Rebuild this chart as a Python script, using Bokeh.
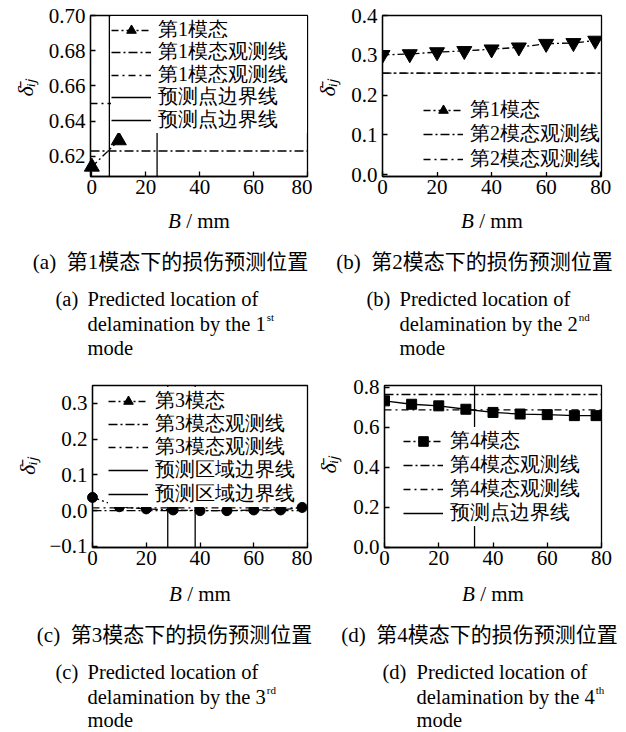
import math
from bokeh.plotting import figure
from bokeh.models import Range1d, FixedTicker, CustomJSTickFormatter, Legend, LegendItem
from bokeh.layouts import column, row
from bokeh.embed import file_html
from bokeh.resources import INLINE
from bokeh.core.properties import value

FONT = "Liberation Serif, Noto Sans CJK SC"
NUM_FONT = "Liberation Serif"

# ---------------- data ----------------
X_TICKS = [0, 20, 40, 60, 80]

A_X = [0, 10]
A_Y = [0.614, 0.629]
A_OBS = [0.623, 0.650]
A_BOUND = [6.5, 24.2]
A_YTICKS = [0.62, 0.64, 0.66, 0.68, 0.70]
A_LABELS = ["第1模态", "第1模态观测线", "第1模态观测线", "预测点边界线", "预测点边界线"]

B_X = [0, 10, 20, 30, 40, 50, 60, 70, 78]
B_Y = [0.301, 0.303, 0.308, 0.311, 0.315, 0.320, 0.329, 0.331, 0.337]
B_OBS = [0.255, 0.255]
B_YTICKS = [0.0, 0.1, 0.2, 0.3, 0.4]
B_LABELS = ["第1模态", "第2模态观测线", "第2模态观测线"]

C_X = [0, 10, 20, 30, 40, 50, 60, 70, 78]
C_Y = [0.037, 0.011, 0.005, 0.002, 0.0, 0.0, 0.002, 0.002, 0.009]
C_OBS = [0.0, 0.008]
C_BOUND = [28.0, 38.2]
C_YTICKS = [-0.1, 0.0, 0.1, 0.2, 0.3]
C_LABELS = ["第3模态", "第3模态观测线", "第3模态观测线", "预测区域边界线", "预测区域边界线"]

D_X = [0, 10, 20, 30, 40, 50, 60, 70, 78]
D_Y = [0.733, 0.716, 0.708, 0.691, 0.675, 0.667, 0.664, 0.659, 0.659]
D_OBS = [0.765, 0.688]
D_BOUND = [33.2]
D_YTICKS = [0.0, 0.2, 0.4, 0.6, 0.8]
D_LABELS = ["第4模态", "第4模态观测线", "第4模态观测线", "预测点边界线"]

X_LABEL_ITALIC = "B"
X_LABEL_REST = "/ mm"
Y_LABEL = "\u03b4\u0304\u1d62\u2c7c"

CAP_ZH = ["(a)\u00a0\u00a0第1模态下的损伤预测位置", "(b)\u00a0\u00a0第2模态下的损伤预测位置",
          "(c)\u00a0\u00a0第3模态下的损伤预测位置", "(d)\u00a0\u00a0第4模态下的损伤预测位置"]
CAP_TAG = ["(a)", "(b)", "(c)", "(d)"]
CAP_L1 = "Predicted location of"
CAP_L2 = ["delamination by the 1", "delamination by the 2", "delamination by the 3", "delamination by the 4"]
CAP_SUP = ["st", "nd", "rd", "th"]
CAP_L3 = "mode"

LW = 1.3
DASH_SERIES = "7 3 2 3"
DASH_OBS1 = "9 3 2 3"
DASH_OBS2 = "7 4 2 4"
ROW_H = 27.5  # rendered height of one legend row


def blank_fig(width, height, x0, top):
    f = figure(width=width, height=height, x_range=Range1d(x0, x0 + width),
               y_range=Range1d(top + height, top), toolbar_location=None, output_backend="svg",
               x_axis_location=None, y_axis_location=None, min_border=0)
    f.xgrid.visible = False
    f.ygrid.visible = False
    f.outline_line_alpha = 0
    return f


def ylab_fig(width, height, x0, top, cx, cy):
    f = blank_fig(width, height, x0, top)
    f.text(x=[cx], y=[cy], text=[Y_LABEL], angle=math.pi / 2, text_font=value(NUM_FONT),
           text_font_size="22px", text_font_style="italic", text_color="black",
           text_align="center", text_baseline="middle")
    return f


def panel(width, height, xr, yr, borders, yticks, ydec):
    l, r, t, b = borders
    p = figure(width=width, height=height, x_range=Range1d(*xr), y_range=Range1d(*yr),
               toolbar_location=None, output_backend="svg",
               min_border_left=l, min_border_right=r, min_border_top=t, min_border_bottom=b)
    p.xgrid.visible = False
    p.ygrid.visible = False
    p.outline_line_color = "black"
    p.outline_line_width = LW
    p.outline_line_alpha = 1
    p.xaxis.ticker = FixedTicker(ticks=X_TICKS)
    p.yaxis.ticker = FixedTicker(ticks=yticks)
    p.xaxis.formatter = CustomJSTickFormatter(code="return tick.toFixed(0);")
    p.yaxis.formatter = CustomJSTickFormatter(
        code="return tick.toFixed(%d).replace('-', '\\u2212');" % ydec)
    for ax in (p.xaxis[0], p.yaxis[0]):
        ax.major_tick_in = 5
        ax.major_tick_out = 0
        ax.minor_tick_in = 0
        ax.minor_tick_out = 0
        ax.major_tick_line_color = "black"
        ax.major_tick_line_width = LW
        ax.axis_line_color = "black"
        ax.axis_line_width = LW
        ax.major_label_text_font = NUM_FONT
        ax.major_label_text_font_size = "21px"
        ax.major_label_text_color = "black"
    p.xaxis.major_label_standoff = 3
    p.yaxis.major_label_standoff = 5
    return p


def hline(p, y, xr, dash):
    return p.segment(x0=[xr[0]], x1=[xr[1]], y0=[y], y1=[y], line_color="black",
                     line_width=LW, line_dash=dash)


def vline(p, x, yr):
    return p.segment(x0=[x], x1=[x], y0=[yr[0]], y1=[yr[1]], line_color="black",
                     line_width=LW)


def add_legend_rows(p, entries, vx, frame_bottom, first_center, pitch, label_width=20):
    """One single-row legend per entry, so that the row pitch is set exactly."""
    for i, (label, rends) in enumerate(entries):
        center = first_center + i * pitch
        vy = round(frame_bottom - (center + ROW_H / 2))
        lg = Legend(items=[LegendItem(label=label, renderers=rends)], location=(vx, vy),
                    padding=0, spacing=0, margin=0,
                    glyph_width=40, glyph_height=24, label_height=24, label_standoff=7,
                    label_width=label_width,
                    label_text_font=NUM_FONT, label_text_font_size="20px",
                    label_text_color="black", border_line_alpha=0,
                    background_fill_color="white", background_fill_alpha=1,
                    inactive_fill_alpha=0)
        p.add_layout(lg)


# ---------------- panel (a) ----------------
xa, ya = (-0.5, 80), (0.6085, 0.70)
la = ylab_fig(32, 205, 8, 0, 25, 92)
pa = panel(272, 205, xa, ya, (50, 5, 15, 29), A_YTICKS, 2)
ra_o1 = hline(pa, A_OBS[0], xa, DASH_OBS1)
ra_o2 = hline(pa, A_OBS[1], xa, DASH_OBS2)
ra_b1 = vline(pa, A_BOUND[0], ya)
ra_b2 = vline(pa, A_BOUND[1], ya)
ra_l = pa.line(A_X, A_Y, line_color="black", line_width=LW, line_dash=DASH_SERIES)
ra_m = pa.scatter(A_X, A_Y, marker="triangle", size=15, fill_color="black", line_color="black",
                  level="overlay")
add_legend_rows(pa, [(A_LABELS[0], [ra_l, ra_m]), (A_LABELS[1], [ra_o1]),
                     (A_LABELS[2], [ra_o2]), (A_LABELS[3], [ra_b1]),
                     (A_LABELS[4], [ra_b2])], 21, 176, 28.8, 22.6, label_width=149)

# ---------------- panel (b) ----------------
xb, yb = (0, 80.3), (-0.005, 0.40)
lb = ylab_fig(30, 205, 312, 0, 327, 92)
pb = panel(276, 205, xb, yb, (40, 17, 15, 29), B_YTICKS, 1)
rb_o1 = hline(pb, B_OBS[0], xb, DASH_OBS1)
rb_o2 = hline(pb, B_OBS[1], xb, DASH_OBS2)
rb_l = pb.line(B_X, B_Y, line_color="black", line_width=LW, line_dash=DASH_SERIES)
pb.scatter(B_X, B_Y, marker="inverted_triangle", size=15, fill_color="black", line_color="black")
rb_leg = pb.scatter(B_X, B_Y, marker="triangle", size=15, fill_color="black",
                    line_color="black", visible=False)
add_legend_rows(pb, [(B_LABELS[0], [rb_l, rb_leg]), (B_LABELS[1], [rb_o1]),
                     (B_LABELS[2], [rb_o2])], 41, 176, 109, 24.5)

# ---------------- panel (c) ----------------
xc, yc = (0, 80), (-0.103, 0.35)
lc = ylab_fig(34, 209, 8, 366, 27, 470)
pc = panel(270, 209, xc, yc, (50, 5, 19, 28), C_YTICKS, 1)
rc_o1 = hline(pc, C_OBS[0], xc, DASH_OBS1)
rc_o2 = hline(pc, C_OBS[1], xc, DASH_OBS2)
rc_b1 = vline(pc, C_BOUND[0], yc)
rc_b2 = vline(pc, C_BOUND[1], yc)
rc_l = pc.line(C_X, C_Y, line_color="black", line_width=LW, line_dash=DASH_SERIES)
pc.scatter(C_X, C_Y, marker="circle", size=10, fill_color="black", line_color="black",
           level="overlay")
rc_leg = pc.scatter(C_X, C_Y, marker="triangle", size=15, fill_color="black",
                    line_color="black", visible=False)
add_legend_rows(pc, [(C_LABELS[0], [rc_l, rc_leg]), (C_LABELS[1], [rc_o1]),
                     (C_LABELS[2], [rc_o2]), (C_LABELS[3], [rc_b1]),
                     (C_LABELS[4], [rc_b2])], 16, 547, 400, 23.2)

# ---------------- panel (d) ----------------
xd, yd = (0, 80), (-0.002, 0.81)
ld = ylab_fig(30, 209, 312, 366, 328, 468)
pd_ = panel(276, 209, xd, yd, (42, 17, 19, 28), D_YTICKS, 1)
rd_o1 = hline(pd_, D_OBS[0], xd, DASH_OBS1)
rd_o2 = hline(pd_, D_OBS[1], xd, DASH_OBS2)
rd_b1 = vline(pd_, D_BOUND[0], yd)
pd_.line(D_X, D_Y, line_color="black", line_width=LW)
rd_m = pd_.scatter(D_X, D_Y, marker="square", size=10, fill_color="black", line_color="black")
rd_leg = pd_.line(D_X, D_Y, line_color="black", line_width=LW, line_dash=DASH_SERIES,
                  visible=False)
add_legend_rows(pd_, [(D_LABELS[0], [rd_leg, rd_m]), (D_LABELS[1], [rd_o1]),
                      (D_LABELS[2], [rd_o2]), (D_LABELS[3], [rd_b1])], 19, 547, 440, 24)


# ---------------- captions ----------------
def txt(f, x, y, s, size, align="left", style="normal"):
    f.text(x=[x], y=[y], text=[s], text_font=value(FONT), text_font_size=size,
           text_align=align, text_baseline="middle", text_color="black",
           text_font_style=style)


EN = 20.5
L2_EM = 8.694  # width of "delamination by the N" in em (Times metrics)


def caption_block(f, idx, axis_center, zh_center, tag_x, text_x, y_axis, y_zh, y_lines):
    bx = axis_center - 30.9
    txt(f, bx, y_axis, X_LABEL_ITALIC, "21px", style="italic")
    txt(f, bx + 18.1, y_axis, X_LABEL_REST, "21px")
    txt(f, zh_center, y_zh, CAP_ZH[idx], "21px", align="center")
    txt(f, tag_x, y_lines[0], CAP_TAG[idx], "%gpx" % EN)
    txt(f, text_x, y_lines[0], CAP_L1, "%gpx" % EN)
    txt(f, text_x, y_lines[1], CAP_L2[idx], "%gpx" % EN)
    txt(f, text_x + L2_EM * EN + 1, y_lines[1] - 7, CAP_SUP[idx], "11px")
    txt(f, text_x, y_lines[2], CAP_L3, "%gpx" % EN)


cap1 = blank_fig(610, 161, 8, 205)
caption_block(cap1, 0, 198.5, 170, 55, 87, 220, 261, (298, 323, 347))
caption_block(cap1, 1, 491.5, 474, 366, 399, 220, 261, (298, 323, 347))

cap2 = blank_fig(610, 155, 8, 575)
caption_block(cap2, 2, 199.5, 174, 55, 87, 593, 634, (671, 696, 719))
caption_block(cap2, 3, 492.5, 479, 382, 416, 593, 634, (671, 696, 719))

layout = column(row(la, pa, lb, pb), cap1, row(lc, pc, ld, pd_), cap2, margin=(0, 8, 0, 8))

with open("out.html", "w") as fh:
    fh.write(file_html(layout, INLINE))
